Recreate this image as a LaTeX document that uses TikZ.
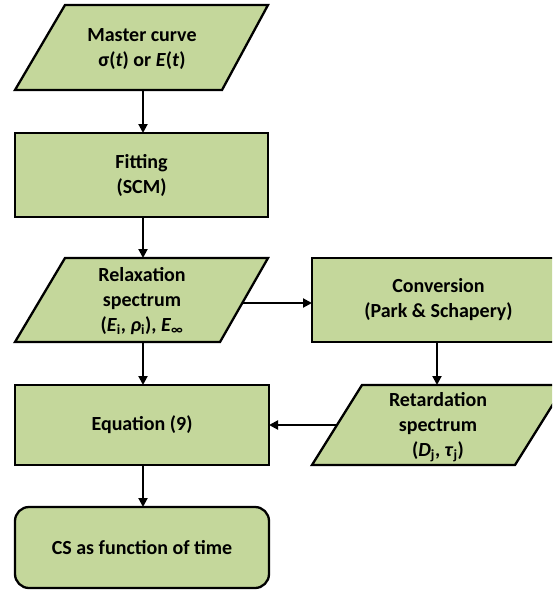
\documentclass[tikz,border=0pt]{standalone}
\usepackage{fontspec}
\setmainfont{Carlito}
\usetikzlibrary{arrows.meta}
\definecolor{boxfill}{HTML}{C4D79B}
\begin{document}
\begin{tikzpicture}[x=1pt,y=-1pt,
  boxshape/.style={draw=black, fill=boxfill, line width=2.3pt, line join=miter},
  rectbox/.style={boxshape, rectangle, inner sep=0pt, outer sep=0pt, align=center,
    font=\fontsize{20}{25}\selectfont\bfseries},
  txt/.style={align=center, font=\fontsize{20}{25}\selectfont\bfseries, inner sep=0pt},
  arr/.style={-{Triangle[length=9pt,width=9pt]}, line width=2pt}]
\useasboundingbox (0,0) rectangle (552,591);
\clip (0,0) rectangle (552,591);

% Master curve (parallelogram)
\draw[boxshape] (65,5) -- (268,5) -- (222,90) -- (15,90) -- cycle;
\node[txt] (master) at (142,49) {Master curve\\σ(\textit{t}) or \textit{E}(\textit{t})};
\coordinate (masterB) at (143,90);

% Fitting
\node[rectbox, minimum width=253pt, minimum height=84pt] (fit) at (141.5,175) {Fitting\\(SCM)};

% Relaxation spectrum (parallelogram)
\draw[boxshape] (65,258) -- (268,258) -- (220,342) -- (15,342) -- cycle;
\node[txt] (relax) at (142,301) {Relaxation\\spectrum\\(\textit{E}\textsubscript{i}, \textit{ρ}\textsubscript{i}), \textit{E}\textsubscript{∞}};
\coordinate (relaxT) at (143,258);
\coordinate (relaxB) at (143,342);
\coordinate (relaxR) at (243,303);

% Conversion
\node[rectbox, minimum width=253pt, minimum height=84pt] (conv) at (438.5,300) {Conversion\\(Park \& Schapery)};

% Retardation spectrum (parallelogram)
\draw[boxshape] (362,385) -- (565,385) -- (515,465) -- (312,465) -- cycle;
\node[txt] (retard) at (438,427) {Retardation\\spectrum\\(\textit{D}\textsubscript{j}, \textit{τ}\textsubscript{j})};
\coordinate (retT) at (437,385);
\coordinate (retL) at (337,425);

% Equation (9)
\node[rectbox, minimum width=254pt, minimum height=80pt] (eq) at (142,425) {Equation (9)};

% CS as function of time
\node[rectbox, rounded corners=14pt, minimum width=254pt, minimum height=81pt] (cs) at (142,547.5) {CS as function of time};

% connectors
\draw[arr] (masterB) -- (masterB |- fit.north);
\draw[arr] (masterB |- fit.south) -- (relaxT);
\draw[arr] (relaxB) -- (relaxB |- eq.north);
\draw[arr] (relaxR) -- (relaxR -| conv.west);
\draw[arr] (retT |- conv.south) -- (retT);
\draw[arr] (retL) -- (retL -| eq.east);
\draw[arr] (relaxB |- eq.south) -- (relaxB |- cs.north);
\end{tikzpicture}
\end{document}
